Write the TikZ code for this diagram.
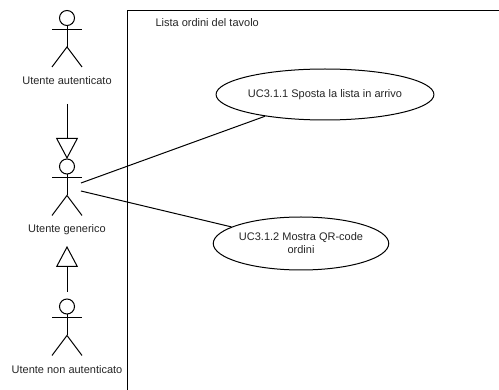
\documentclass[tikz,border=0pt]{standalone}
\usepackage{fontspec}
\setmainfont{Liberation Sans}
\usetikzlibrary{shapes.geometric,arrows.meta}
\newcommand{\stickactor}[4]{%
  \node[actorbox] (#1) at (#2,{#3+20.25}) {};
  \draw ([yshift=-7.5pt]#1.north) circle[radius=7.5pt];
  \draw ([yshift=-19pt]#1.north west) -- ([yshift=-19pt]#1.north east);
  \draw ([yshift=-15pt]#1.north) -- ([yshift=-36.5pt]#1.north);
  \draw (#1.south west) -- ([yshift=-36.5pt]#1.north) -- (#1.south east);
  \node[lbl] (#1l) at ([yshift=-14pt]#1.south) {#4};
}
\begin{document}
\begin{tikzpicture}[x=1pt,y=-1pt,line width=1pt,
  every node/.style={font=\fontsize{11}{13}\selectfont,text=black!85},
  actorbox/.style={draw=none,minimum width=29pt,minimum height=55.5pt,inner sep=0pt},
  usecase/.style={draw,ellipse,inner sep=0pt,align=center},
  lbl/.style={inner sep=0pt},
  sysbox/.style={draw,minimum width=420pt,minimum height=420pt,inner sep=0pt,anchor=north west},
  gen/.style={-{Triangle[open,length=21pt,width=22pt]}},
  assoc/.style={}]
\useasboundingbox (0,0) rectangle (499,390);
\clip (0,0) rectangle (499,390);
\fill[white] (0,0) rectangle (499,390);

\node[sysbox] (sys) at (127,10.5) {};
\node[lbl,anchor=west] (title) at (155,23) {Lista ordini del tavolo};

\stickactor{a1}{67}{18.5}{Utente autenticato}
\stickactor{a2}{67}{167}{Utente generico}
\stickactor{a3}{67}{307}{Utente non autenticato}

\node[usecase,minimum width=188pt,minimum height=51pt] (uc1) at (325,94.5) {UC3.1.1 Sposta la lista in arrivo};
\node[usecase,minimum width=161pt,minimum height=53pt] (uc2) at (301,243.5) {UC3.1.2 Mostra QR-code\\ordini};

\coordinate (g1s) at (67,104);
\coordinate (g2s) at (67,292);
\coordinate (g2e) at (67,246);
\draw[gen] (g1s) -- (a2.north);
\draw[gen] (g2s) -- (g2e);

\coordinate (c1) at (81,183);
\coordinate (c2) at (81,191);
\draw[assoc] (c1) -- (uc1);
\draw[assoc] (c2) -- (uc2);
\end{tikzpicture}
\end{document}
